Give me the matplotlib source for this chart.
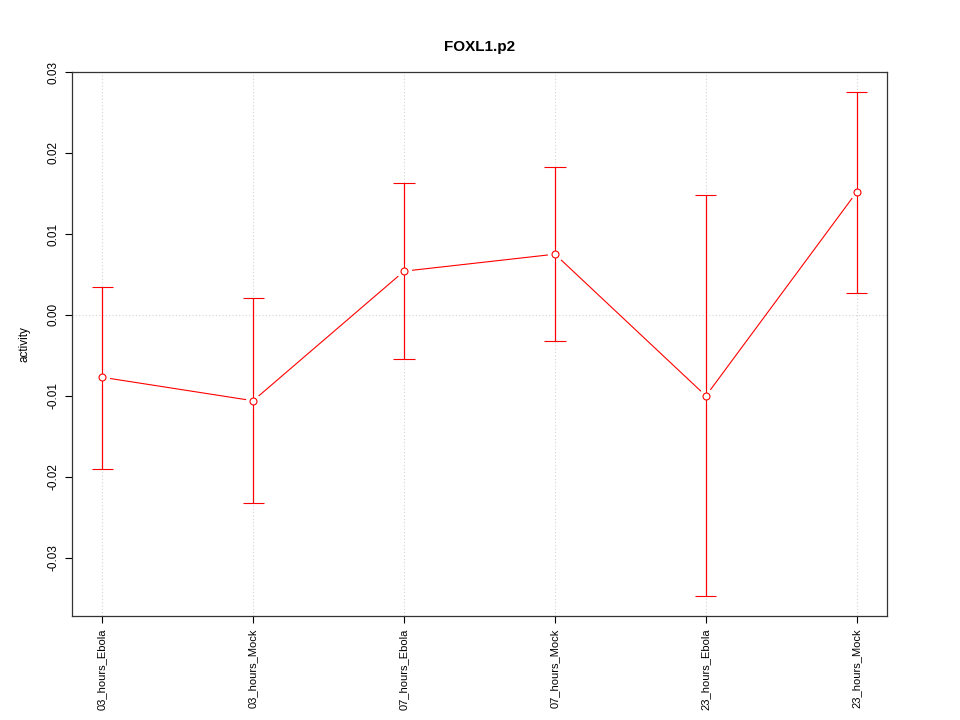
import matplotlib
matplotlib.use('Agg')
import matplotlib.pyplot as plt

# data
conditions = ['03_hours_Ebola', '03_hours_Mock', '07_hours_Ebola',
              '07_hours_Mock', '23_hours_Ebola', '23_hours_Mock']
activity = [-0.0077, -0.0106, 0.0054, 0.0075, -0.0100, 0.0152]
upper = [0.0035, 0.0021, 0.0163, 0.0183, 0.0148, 0.0275]
lower = [-0.0190, -0.0232, -0.0054, -0.0032, -0.0347, 0.0027]

plt.rcParams['font.family'] = ['Liberation Sans', 'DejaVu Sans']

fig = plt.figure(figsize=(9.6, 7.2), dpi=100)
ax = fig.add_axes([0.075, 0.1444, 0.849, 0.7556])

x = list(range(1, len(conditions) + 1))

# grid: vertical at categories, horizontal at zero
for xi in x:
	ax.axvline(xi, color='#d3d3d3', linestyle=(0, (1, 2)), linewidth=0.8, zorder=0)
ax.axhline(0, color='#d3d3d3', linestyle=(0, (1, 2)), linewidth=0.8, zorder=0)

# error bars
ax.vlines(x, lower, upper, color='red', linewidth=0.8, zorder=2)
ax.hlines(upper, [xi - 0.07 for xi in x], [xi + 0.07 for xi in x], color='red', linewidth=0.8, zorder=2)
ax.hlines(lower, [xi - 0.07 for xi in x], [xi + 0.07 for xi in x], color='red', linewidth=0.8, zorder=2)

# line with gaps around points (type = "b")
ax.plot(x, activity, color='red', linewidth=0.8, zorder=3)
ax.plot(x, activity, linestyle='none', marker='o', markersize=10, markerfacecolor='white',
	markeredgecolor='white', zorder=4)
ax.vlines(x, lower, upper, color='red', linewidth=0.8, zorder=5)
ax.plot(x, activity, linestyle='none', marker='o', markersize=5, markerfacecolor='white',
	markeredgecolor='red', markeredgewidth=0.8, zorder=6)

ymin, ymax = min(lower), max(upper)
pad = (ymax - ymin) * 0.04
ax.set_ylim(ymin - pad, ymax + pad)
ax.set_xlim(0.8, 6.2)

ax.set_xticks(x)
ax.set_xticklabels(conditions, rotation=90, fontsize=8)
ax.set_yticks([-0.03, -0.02, -0.01, 0.0, 0.01, 0.02, 0.03])
ax.set_yticklabels(['-0.03', '-0.02', '-0.01', '0.00', '0.01', '0.02', '0.03'],
	rotation=90, va='center', fontsize=8.5)
ax.tick_params(length=5, width=0.8, pad=4)

for side in ['left', 'top', 'right', 'bottom']:
	ax.spines[side].set_color('#333333')
	ax.spines[side].set_linewidth(0.9)

ax.set_ylabel('activity', fontsize=8.5, labelpad=12)
ax.set_title('FOXL1.p2', fontsize=11, fontweight='bold', pad=15)

fig.savefig('out.png', dpi=100)
